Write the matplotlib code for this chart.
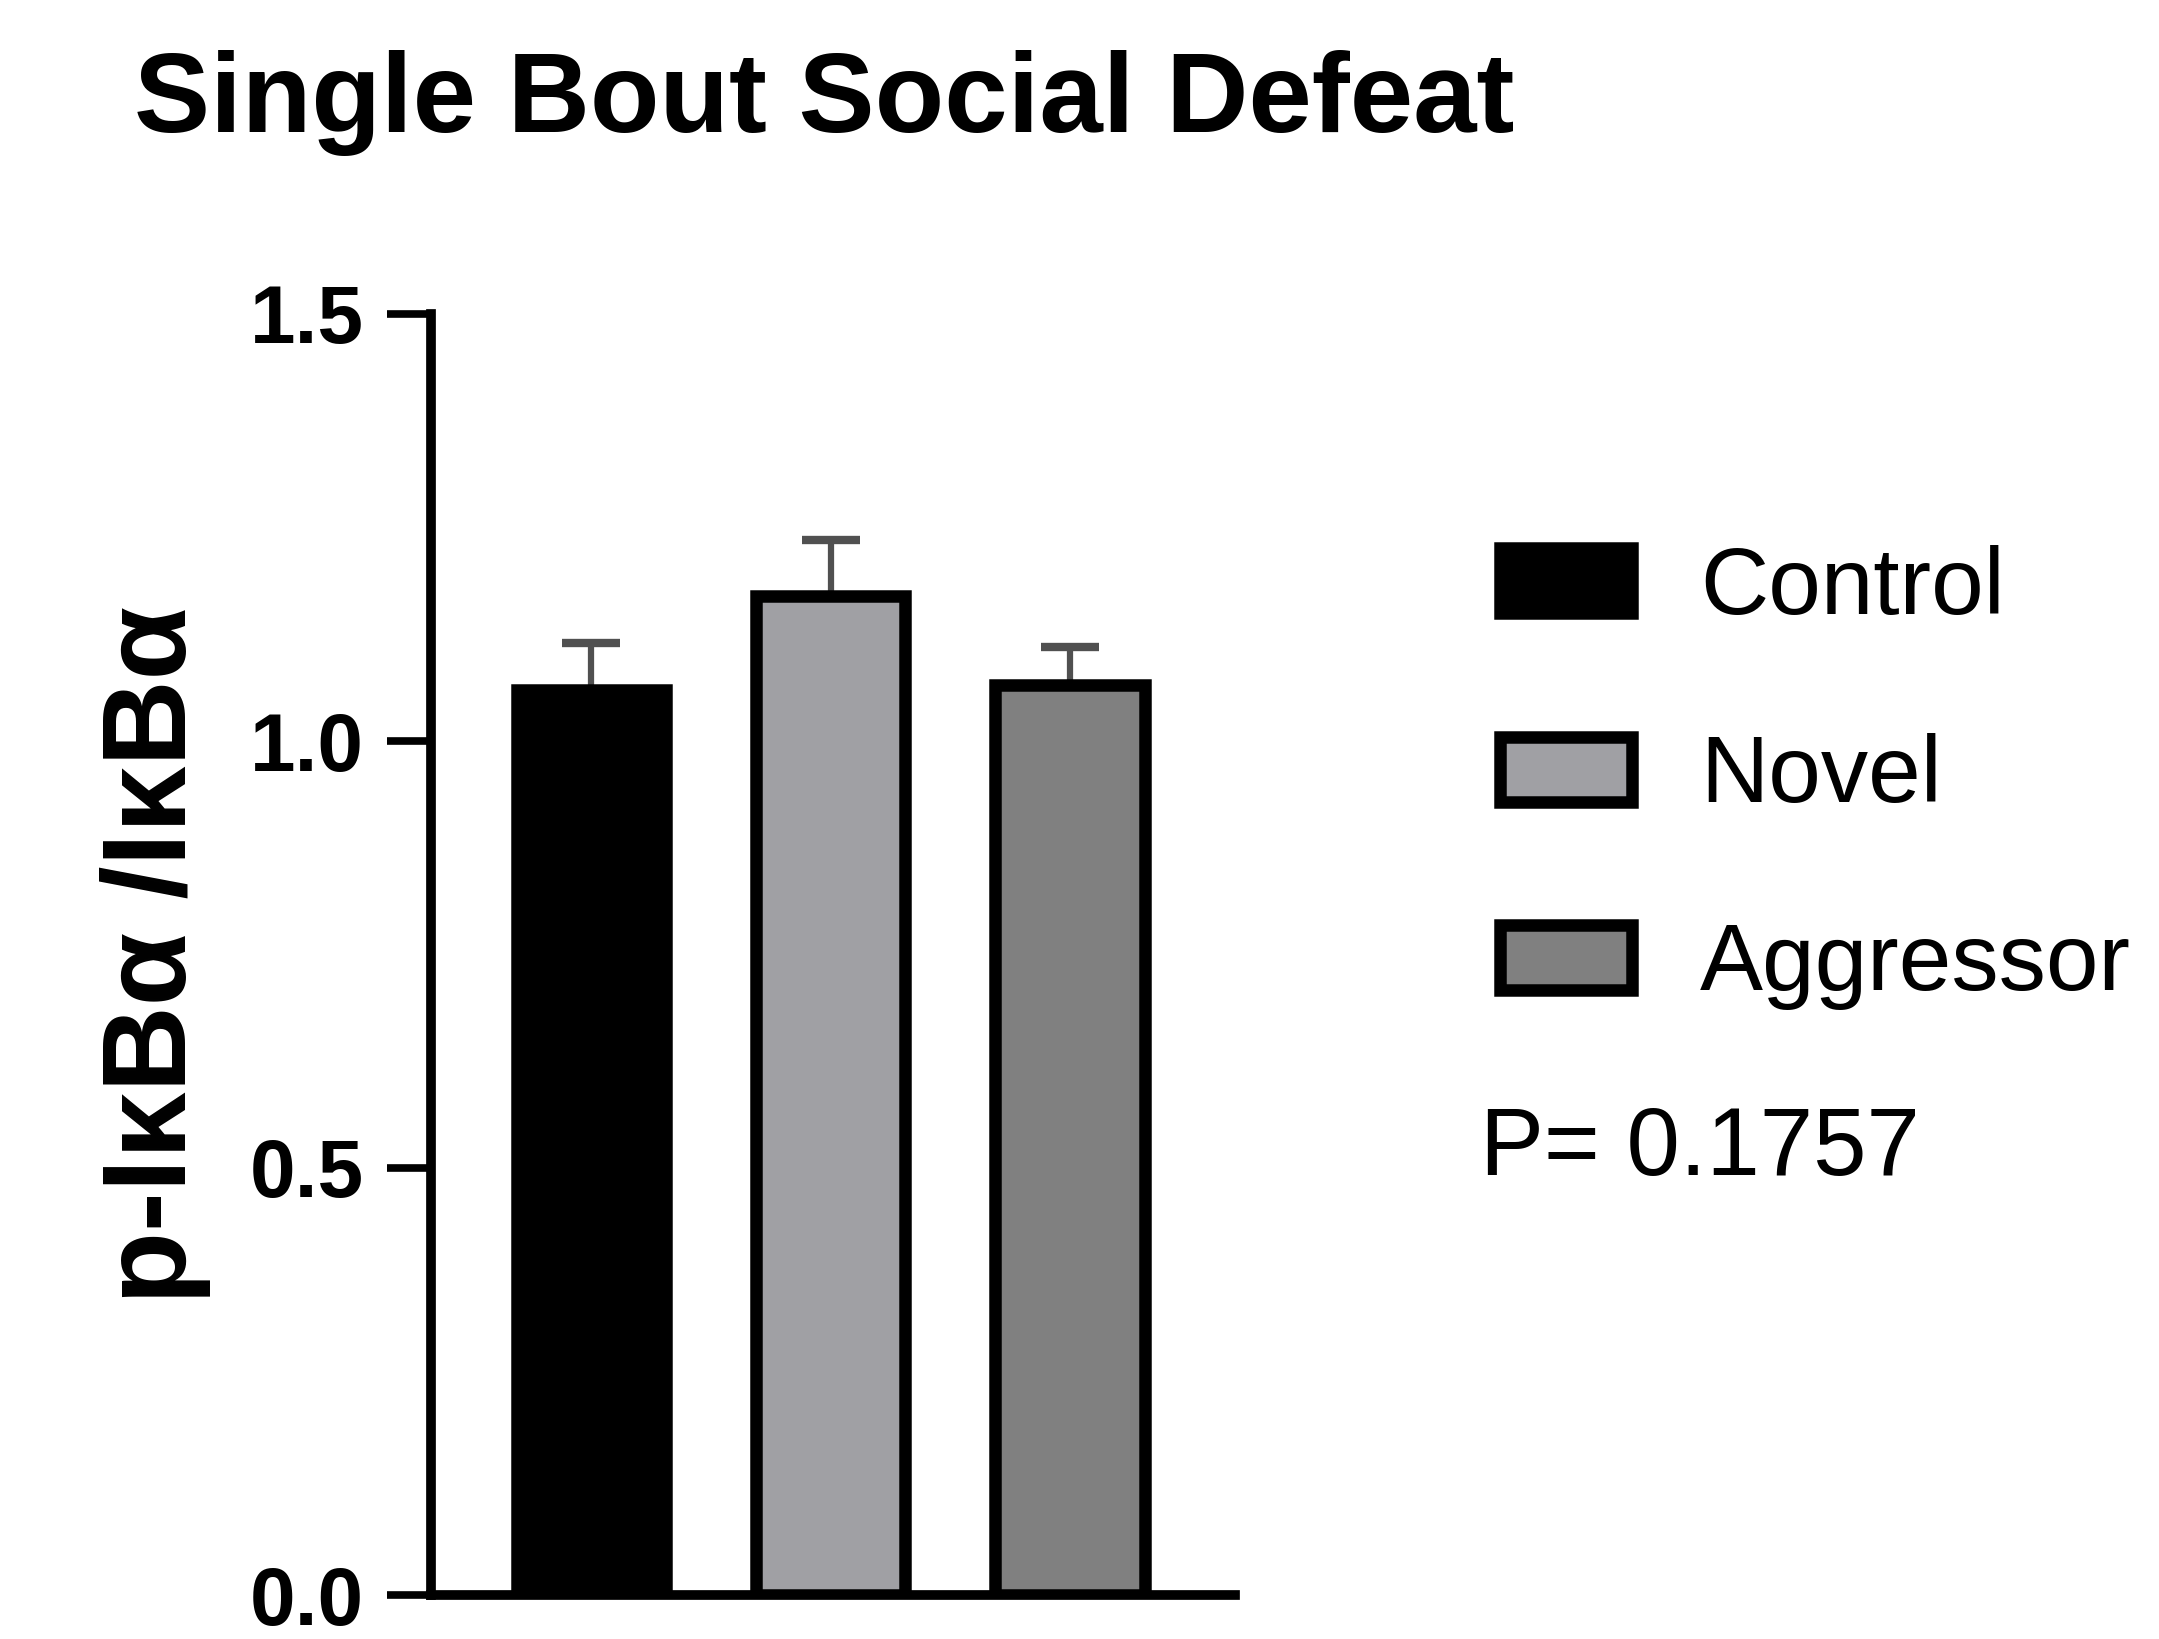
import matplotlib
matplotlib.use("Agg")
import matplotlib.pyplot as plt

plt.rcParams['font.family'] = ['Liberation Sans', 'DejaVu Sans']

groups = ['Control', 'Novel', 'Aggressor']
means = [1.06, 1.17, 1.065]
sem = [0.055, 0.065, 0.045]
fills = ['#000000', '#a0a0a4', '#808080']
p_text = 'P= 0.1757'

W, H = 2159, 1639
fig = plt.figure(figsize=(W / 100, H / 100), dpi=100)
ax = fig.add_axes([431 / W, 1 - 1595 / H, (1235 - 431) / W, (1595 - 314) / H])

x = range(len(groups))
bars = ax.bar(x, means, width=0.625, color=fills, edgecolor='black',
              linewidth=9, label=groups, zorder=2)
ax.errorbar(x, means, yerr=[[0] * len(sem), sem], fmt='none', ecolor='#505050',
            elinewidth=4.5, capsize=21, capthick=6, zorder=1)

ax.set_xlim(-0.67, 2.69)
ax.set_ylim(0, 1.5)
ax.set_yticks([0, 0.5, 1.0, 1.5])
ax.set_yticklabels(['0.0', '0.5', '1.0', '1.5'])
ax.set_xticks([])
for s in ['top', 'right']:
    ax.spines[s].set_visible(False)
for s in ['left', 'bottom']:
    ax.spines[s].set_linewidth(7)
ax.tick_params(axis='y', length=32, width=5.5, labelsize=59, pad=16)
for lab in ax.get_yticklabels():
    lab.set_fontweight('bold')

ax.set_ylabel('p-IκBα /IκBα', fontsize=86, fontweight='bold', labelpad=28)

fig.text(134 / W, 1 - 103 / H, 'Single Bout Social Defeat', fontsize=82,
         fontweight='bold', ha='left', va='center')

leg = ax.legend(bars, groups, loc='upper left', bbox_to_anchor=(1500 / W, 1 - 545 / H),
                bbox_transform=fig.transFigure, frameon=False, fontsize=68,
                handlelength=1.4, handleheight=0.68, handletextpad=0.72,
                labelspacing=1.05, borderaxespad=0, borderpad=0)

fig.text(1480 / W, 1 - 1150 / H, p_text, fontsize=69, ha='left', va='center')

fig.savefig('out.png', dpi=100)
